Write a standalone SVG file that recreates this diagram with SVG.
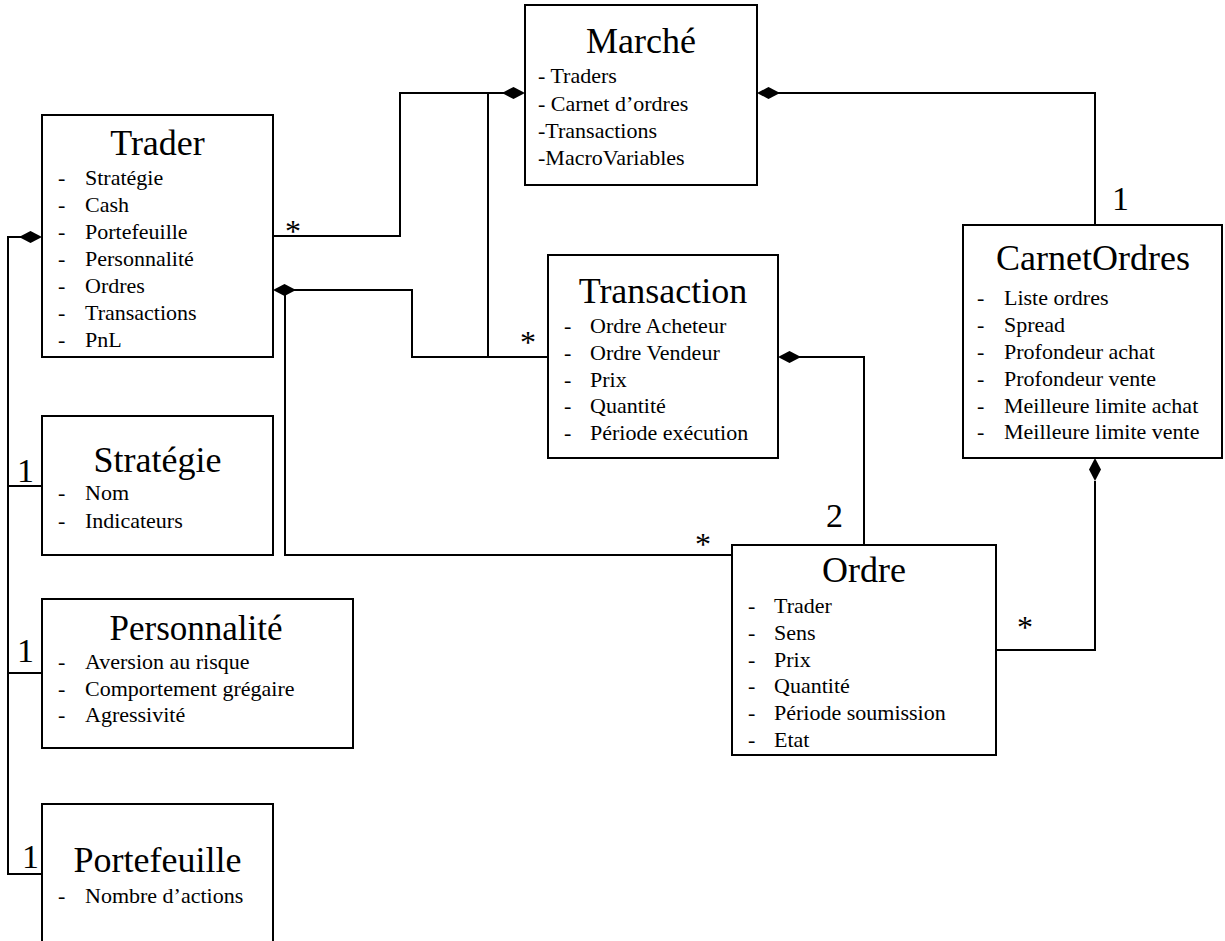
<svg xmlns="http://www.w3.org/2000/svg" width="1225" height="941" viewBox="0 0 1225 941">
<style>
.box{fill:#fff;stroke:#000;stroke-width:2}
.ln{fill:none;stroke:#000;stroke-width:2}
.t{font-family:"Liberation Serif","Times New Roman",serif;font-size:36px;text-anchor:middle;fill:#000}
.a{font-family:"Liberation Serif","Times New Roman",serif;font-size:22px;fill:#000}
.m{font-family:"Liberation Serif","Times New Roman",serif;font-size:34px;fill:#000}
.s{font-family:"Liberation Serif","Times New Roman",serif;font-size:32px;text-anchor:middle;fill:#000}
</style>
<defs>
<path id="dia" d="M0,0 L11.5,-6 L23,0 L11.5,6 Z" fill="#000"/>
</defs>
<rect width="1225" height="941" fill="#fff"/>
<g id="connectors">
<polyline class="ln" points="273,236 400,236 400,93 505,93"/>
<line class="ln" x1="488" y1="93" x2="488" y2="357"/>
<polyline class="ln" points="548,357 412,357 412,290 294,290"/>
<polyline class="ln" points="732,555 285,555 285,290"/>
<polyline class="ln" points="1095,225 1095,93 778,93"/>
<polyline class="ln" points="864,545 864,357 799,357"/>
<polyline class="ln" points="996,650 1095,650 1095,481"/>
<polyline class="ln" points="22,237 8,237 8,874 42,874"/>
<line class="ln" x1="8" y1="486" x2="42" y2="486"/>
<line class="ln" x1="8" y1="673" x2="42" y2="673"/>
<use href="#dia" x="502" y="93"/>
<use href="#dia" x="757" y="93"/>
<use href="#dia" x="273" y="290"/>
<use href="#dia" x="778" y="357"/>
<use href="#dia" x="19" y="237"/>
<use href="#dia" transform="translate(1095,458) rotate(90)"/>
<text class="s" x="293" y="242">*</text>
<text class="s" x="528" y="353">*</text>
<text class="s" x="703" y="555">*</text>
<text class="s" x="1025" y="638">*</text>
<text class="m" x="1112" y="210">1</text>
<text class="m" x="826" y="527">2</text>
<text class="m" x="17" y="482">1</text>
<text class="m" x="17" y="662">1</text>
<text class="m" x="22" y="868">1</text>
</g>
<g id="marche">
<rect class="box" x="525" y="5" width="232" height="180"/>
<text class="t" x="641" y="53">Marché</text>
<text class="a" x="538" y="83">- Traders</text>
<text class="a" x="538" y="111">- Carnet d’ordres</text>
<text class="a" x="538" y="138">-Transactions</text>
<text class="a" x="538" y="165">-MacroVariables</text>
</g>
<g id="trader">
<rect class="box" x="42" y="115" width="231" height="242"/>
<text class="t" x="157.5" y="155">Trader</text>
<g class="a">
<text x="58" y="185">-</text><text x="85" y="185">Stratégie</text>
<text x="58" y="212">-</text><text x="85" y="212">Cash</text>
<text x="58" y="239">-</text><text x="85" y="239">Portefeuille</text>
<text x="58" y="266">-</text><text x="85" y="266">Personnalité</text>
<text x="58" y="293">-</text><text x="85" y="293">Ordres</text>
<text x="58" y="320">-</text><text x="85" y="320">Transactions</text>
<text x="58" y="347">-</text><text x="85" y="347">PnL</text>
</g>
</g>
<g id="transaction">
<rect class="box" x="548" y="255" width="230" height="203"/>
<text class="t" x="663" y="303">Transaction</text>
<g class="a">
<text x="564" y="333">-</text><text x="590" y="333">Ordre Acheteur</text>
<text x="564" y="360">-</text><text x="590" y="360">Ordre Vendeur</text>
<text x="564" y="387">-</text><text x="590" y="387">Prix</text>
<text x="564" y="413">-</text><text x="590" y="413">Quantité</text>
<text x="564" y="440">-</text><text x="590" y="440">Période exécution</text>
</g>
</g>
<g id="carnetordres">
<rect class="box" x="963" y="225" width="259" height="233"/>
<text class="t" x="1093" y="270">CarnetOrdres</text>
<g class="a">
<text x="977" y="305">-</text><text x="1004" y="305">Liste ordres</text>
<text x="977" y="332">-</text><text x="1004" y="332">Spread</text>
<text x="977" y="359">-</text><text x="1004" y="359">Profondeur achat</text>
<text x="977" y="386">-</text><text x="1004" y="386">Profondeur vente</text>
<text x="977" y="413">-</text><text x="1004" y="413">Meilleure limite achat</text>
<text x="977" y="439">-</text><text x="1004" y="439">Meilleure limite vente</text>
</g>
</g>
<g id="ordre">
<rect class="box" x="732" y="545" width="264" height="210"/>
<text class="t" x="864" y="582">Ordre</text>
<g class="a">
<text x="748" y="613">-</text><text x="774" y="613">Trader</text>
<text x="748" y="640">-</text><text x="774" y="640">Sens</text>
<text x="748" y="667">-</text><text x="774" y="667">Prix</text>
<text x="748" y="693">-</text><text x="774" y="693">Quantité</text>
<text x="748" y="720">-</text><text x="774" y="720">Période soumission</text>
<text x="748" y="747">-</text><text x="774" y="747">Etat</text>
</g>
</g>
<g id="strategie">
<rect class="box" x="42" y="416" width="231" height="139"/>
<text class="t" x="157.5" y="472">Stratégie</text>
<g class="a">
<text x="58" y="500">-</text><text x="85" y="500">Nom</text>
<text x="58" y="528">-</text><text x="85" y="528">Indicateurs</text>
</g>
</g>
<g id="personnalite">
<rect class="box" x="42" y="599" width="311" height="149"/>
<text class="t" x="196" y="640" style="font-size:35px">Personnalité</text>
<g class="a">
<text x="58" y="669">-</text><text x="85" y="669">Aversion au risque</text>
<text x="58" y="696">-</text><text x="85" y="696">Comportement grégaire</text>
<text x="58" y="722">-</text><text x="85" y="722">Agressivité</text>
</g>
</g>
<g id="portefeuille">
<rect class="box" x="42" y="804" width="231" height="160"/>
<text class="t" x="157.5" y="872">Portefeuille</text>
<g class="a">
<text x="58" y="903">-</text><text x="85" y="903">Nombre d’actions</text>
</g>
</g>
</svg>
